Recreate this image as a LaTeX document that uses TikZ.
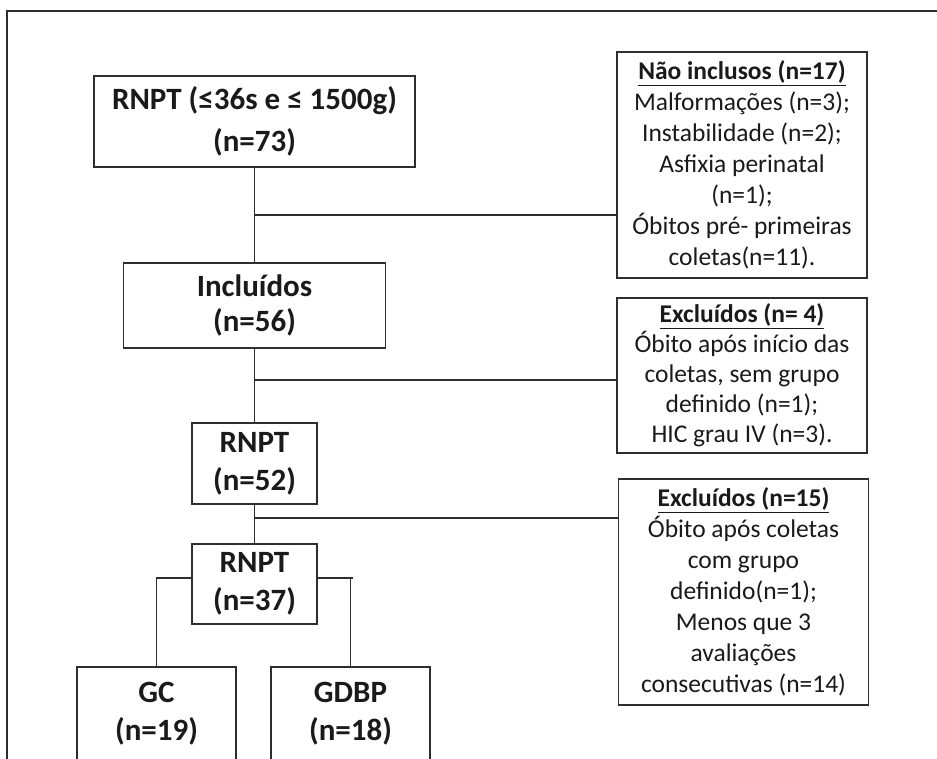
\documentclass[tikz,border=0pt]{standalone}
\usepackage{fontspec}
\setmainfont{Carlito}
\definecolor{linec}{HTML}{2E2E2E}
\definecolor{txtc}{HTML}{1A1A1A}
\begin{document}
\begin{tikzpicture}[x=1pt,y=-1pt,
  box/.style={draw=linec, line width=1.8pt, inner sep=0pt, align=center, text=txtc},
  lbox/.style={box, font=\fontsize{31}{38}\selectfont\bfseries},
  rbox/.style={box, font=\fontsize{25.5}{31}\selectfont, minimum width=250pt},
  conn/.style={draw=linec, line width=1.6pt}]
\useasboundingbox (0,0) rectangle (937,758);
\clip (0,0) rectangle (937,758);
\draw[draw=linec, line width=2.2pt] (7,790) -- (7,11) -- (960,11);

% left column
\node[lbox, minimum width=321pt, minimum height=91pt, font=\fontsize{31}{42}\selectfont\bfseries] (top) at (254.5,121.5) {RNPT (≤36s e ≤ 1500g)\\(n=73)};
\node[lbox, minimum width=262pt, minimum height=85pt, font=\fontsize{31}{35}\selectfont\bfseries] (incl) at (254.5,305.5) {Incluídos\\(n=56)};
\node[lbox, minimum width=125pt, minimum height=81pt] (r52) at (254.5,463.5) {RNPT\\(n=52)};
\node[lbox, minimum width=125pt, minimum height=80pt] (r37) at (254.5,584) {RNPT\\(n=37)};
\node[lbox, minimum width=159pt, minimum height=94pt] (gc) at (156.5,714) {GC\\(n=19)};
\node[lbox, minimum width=159pt, minimum height=94pt] (gdbp) at (350.5,714) {GDBP\\(n=18)};

% right column
\node[rbox, minimum height=226pt] (ni) at (742,165) {\textbf{\underline{Não inclusos (n=17)}}\\Malformações (n=3);\\Instabilidade (n=2);\\Asfixia perinatal\\(n=1);\\Óbitos pré- primeiras\\coletas(n=11).};
\node[rbox, minimum height=155pt, font=\fontsize{25.5}{30}\selectfont] (ex4) at (742,375.5) {\textbf{\underline{Excluídos (n= 4)}}\\Óbito após início das\\coletas, sem grupo\\definido (n=1);\\HIC grau IV (n=3).};
\node[rbox, minimum height=226pt] (ex15) at (743.5,592) {\textbf{\underline{Excluídos (n=15)}}\\Óbito após coletas\\com grupo\\definido(n=1);\\Menos que 3\\avaliações\\consecutivas (n=14)};

% connectors
\coordinate (b1) at (254.5,215);
\coordinate (b2) at (254.5,380);
\coordinate (b3) at (254.5,518);
\draw[conn] (top) -- (incl);
\draw[conn] (incl) -- (r52);
\draw[conn] (r52) -- (r37);
\draw[conn] (b1) -- (b1 -| ni.west);
\draw[conn] (b2) -- (b2 -| ex4.west);
\draw[conn] (b3) -- (b3 -| ex15.west);
\draw[conn] ([yshift=6pt]r37.west) -| (gc.north);
\draw[conn] ([yshift=6pt]r37.east) -| (gdbp.north);
\draw[conn] ([yshift=6pt]r37.east -| gdbp.north) -- ++(2.5,0);
\end{tikzpicture}
\end{document}
